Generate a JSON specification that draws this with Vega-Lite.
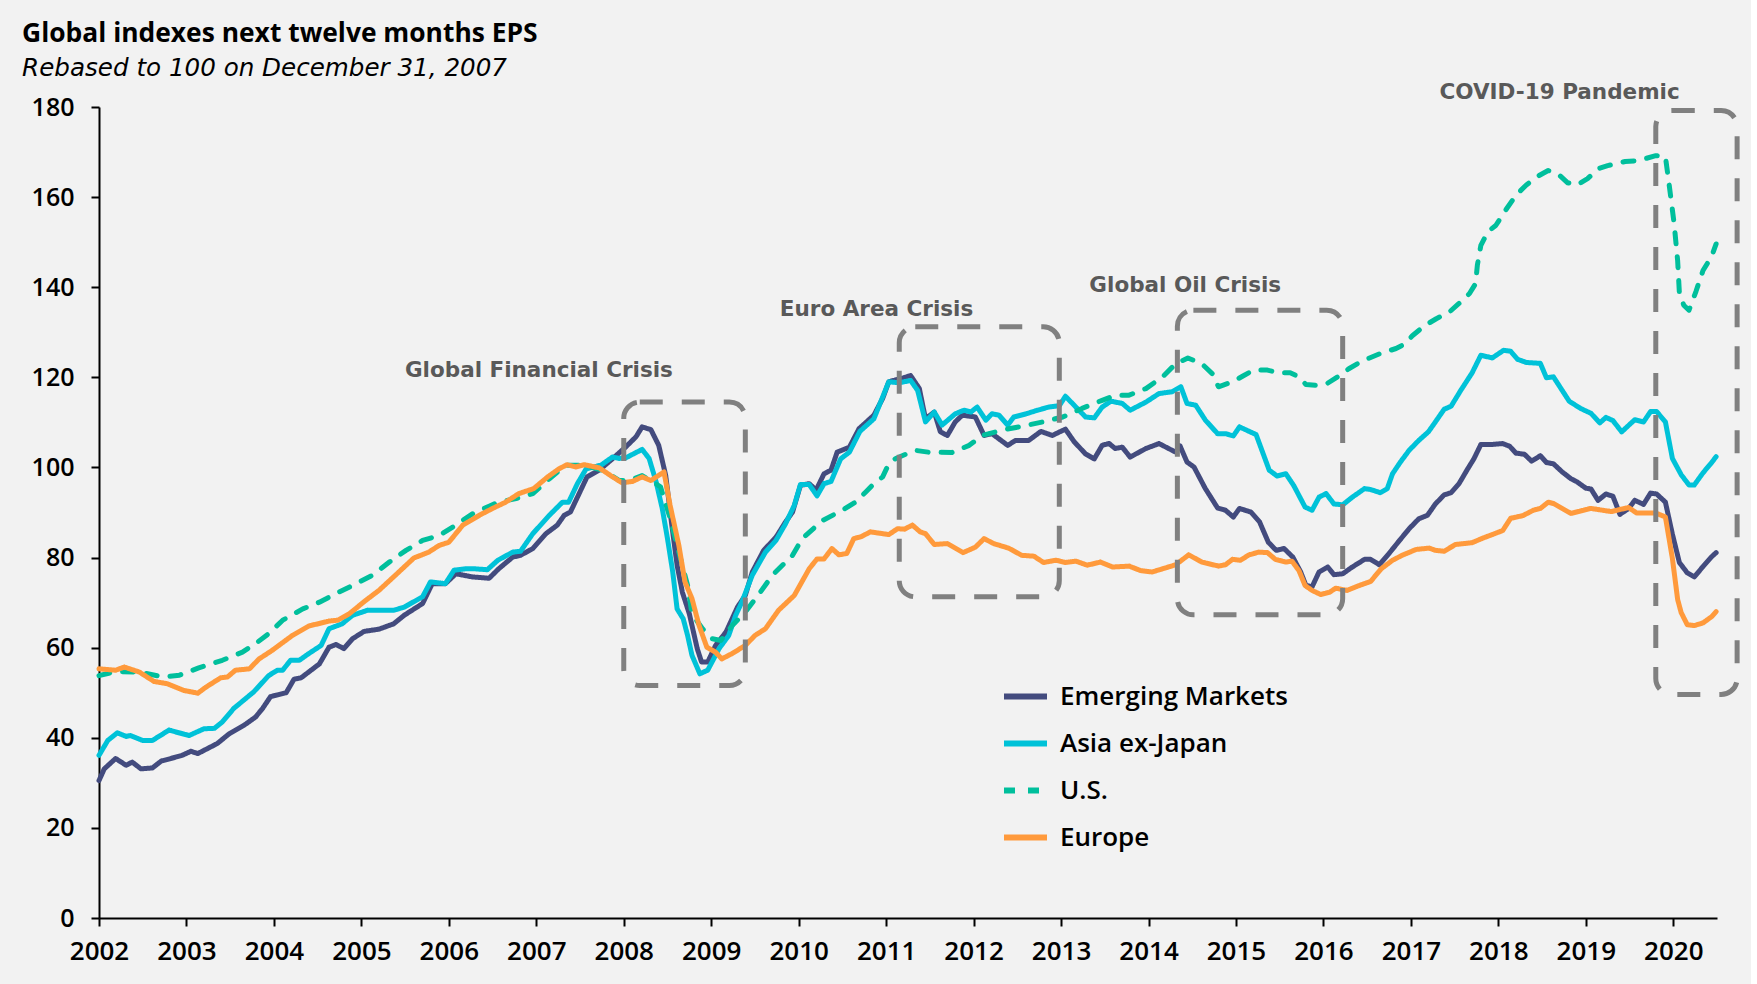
{
  "$schema": "https://vega.github.io/schema/vega-lite/v6.json",
  "width": 1618,
  "height": 811,
  "padding": {"left": 22, "top": 21, "right": 11, "bottom": 20},
  "background": "#f2f2f2",
  "config": {"view": {"stroke": null}, "font": "Open Sans"},
  "title": {
    "text": "Global indexes next twelve months EPS",
    "subtitle": "Rebased to 100 on December 31, 2007",
    "anchor": "start",
    "frame": "bounds",
    "dx": -9,
    "offset": 2,
    "font": "Open Sans",
    "fontSize": 26.4,
    "fontWeight": "bold",
    "color": "#000000",
    "subtitleFont": "DejaVu Sans",
    "subtitleFontSize": 24.6,
    "subtitleFontStyle": "italic",
    "subtitleColor": "#000000",
    "subtitlePadding": 9
  },
  "datasets": {
    "series": [
      {"s":"Emerging Markets","t":2002.00,"v":30.5},
      {"s":"Emerging Markets","t":2002.06,"v":33.1},
      {"s":"Emerging Markets","t":2002.19,"v":35.4},
      {"s":"Emerging Markets","t":2002.31,"v":33.9},
      {"s":"Emerging Markets","t":2002.38,"v":34.6},
      {"s":"Emerging Markets","t":2002.48,"v":33.1},
      {"s":"Emerging Markets","t":2002.61,"v":33.3},
      {"s":"Emerging Markets","t":2002.71,"v":34.8},
      {"s":"Emerging Markets","t":2002.95,"v":36.1},
      {"s":"Emerging Markets","t":2003.05,"v":37.0},
      {"s":"Emerging Markets","t":2003.13,"v":36.5},
      {"s":"Emerging Markets","t":2003.35,"v":38.7},
      {"s":"Emerging Markets","t":2003.49,"v":40.9},
      {"s":"Emerging Markets","t":2003.66,"v":42.8},
      {"s":"Emerging Markets","t":2003.79,"v":44.6},
      {"s":"Emerging Markets","t":2003.87,"v":46.5},
      {"s":"Emerging Markets","t":2003.96,"v":49.1},
      {"s":"Emerging Markets","t":2004.14,"v":50.0},
      {"s":"Emerging Markets","t":2004.23,"v":53.0},
      {"s":"Emerging Markets","t":2004.31,"v":53.3},
      {"s":"Emerging Markets","t":2004.52,"v":56.4},
      {"s":"Emerging Markets","t":2004.63,"v":60.1},
      {"s":"Emerging Markets","t":2004.71,"v":60.7},
      {"s":"Emerging Markets","t":2004.80,"v":59.8},
      {"s":"Emerging Markets","t":2004.90,"v":62.0},
      {"s":"Emerging Markets","t":2005.03,"v":63.6},
      {"s":"Emerging Markets","t":2005.20,"v":64.1},
      {"s":"Emerging Markets","t":2005.37,"v":65.3},
      {"s":"Emerging Markets","t":2005.49,"v":67.2},
      {"s":"Emerging Markets","t":2005.70,"v":69.8},
      {"s":"Emerging Markets","t":2005.81,"v":74.2},
      {"s":"Emerging Markets","t":2005.96,"v":74.2},
      {"s":"Emerging Markets","t":2006.08,"v":76.4},
      {"s":"Emerging Markets","t":2006.27,"v":75.7},
      {"s":"Emerging Markets","t":2006.46,"v":75.4},
      {"s":"Emerging Markets","t":2006.57,"v":77.5},
      {"s":"Emerging Markets","t":2006.73,"v":80.1},
      {"s":"Emerging Markets","t":2006.82,"v":80.5},
      {"s":"Emerging Markets","t":2006.96,"v":82.0},
      {"s":"Emerging Markets","t":2007.11,"v":85.3},
      {"s":"Emerging Markets","t":2007.24,"v":87.2},
      {"s":"Emerging Markets","t":2007.32,"v":89.4},
      {"s":"Emerging Markets","t":2007.39,"v":90.1},
      {"s":"Emerging Markets","t":2007.49,"v":94.2},
      {"s":"Emerging Markets","t":2007.58,"v":97.9},
      {"s":"Emerging Markets","t":2007.72,"v":99.4},
      {"s":"Emerging Markets","t":2007.87,"v":101.9},
      {"s":"Emerging Markets","t":2008.02,"v":104.5},
      {"s":"Emerging Markets","t":2008.14,"v":106.8},
      {"s":"Emerging Markets","t":2008.21,"v":109.0},
      {"s":"Emerging Markets","t":2008.31,"v":108.4},
      {"s":"Emerging Markets","t":2008.40,"v":104.9},
      {"s":"Emerging Markets","t":2008.48,"v":98.2},
      {"s":"Emerging Markets","t":2008.55,"v":87.1},
      {"s":"Emerging Markets","t":2008.61,"v":78.3},
      {"s":"Emerging Markets","t":2008.67,"v":72.3},
      {"s":"Emerging Markets","t":2008.75,"v":67.5},
      {"s":"Emerging Markets","t":2008.84,"v":59.8},
      {"s":"Emerging Markets","t":2008.89,"v":56.8},
      {"s":"Emerging Markets","t":2008.96,"v":56.8},
      {"s":"Emerging Markets","t":2009.05,"v":60.5},
      {"s":"Emerging Markets","t":2009.17,"v":63.5},
      {"s":"Emerging Markets","t":2009.30,"v":69.0},
      {"s":"Emerging Markets","t":2009.39,"v":71.6},
      {"s":"Emerging Markets","t":2009.47,"v":76.8},
      {"s":"Emerging Markets","t":2009.60,"v":81.6},
      {"s":"Emerging Markets","t":2009.74,"v":84.5},
      {"s":"Emerging Markets","t":2009.85,"v":87.9},
      {"s":"Emerging Markets","t":2009.93,"v":90.1},
      {"s":"Emerging Markets","t":2010.02,"v":96.0},
      {"s":"Emerging Markets","t":2010.12,"v":96.4},
      {"s":"Emerging Markets","t":2010.20,"v":95.0},
      {"s":"Emerging Markets","t":2010.29,"v":98.6},
      {"s":"Emerging Markets","t":2010.37,"v":99.4},
      {"s":"Emerging Markets","t":2010.44,"v":103.4},
      {"s":"Emerging Markets","t":2010.58,"v":104.5},
      {"s":"Emerging Markets","t":2010.69,"v":108.6},
      {"s":"Emerging Markets","t":2010.86,"v":111.6},
      {"s":"Emerging Markets","t":2010.96,"v":115.3},
      {"s":"Emerging Markets","t":2011.03,"v":119.0},
      {"s":"Emerging Markets","t":2011.17,"v":119.7},
      {"s":"Emerging Markets","t":2011.28,"v":120.4},
      {"s":"Emerging Markets","t":2011.38,"v":117.5},
      {"s":"Emerging Markets","t":2011.45,"v":110.8},
      {"s":"Emerging Markets","t":2011.55,"v":112.3},
      {"s":"Emerging Markets","t":2011.62,"v":107.9},
      {"s":"Emerging Markets","t":2011.70,"v":107.1},
      {"s":"Emerging Markets","t":2011.79,"v":110.1},
      {"s":"Emerging Markets","t":2011.87,"v":111.6},
      {"s":"Emerging Markets","t":2012.02,"v":111.2},
      {"s":"Emerging Markets","t":2012.12,"v":107.1},
      {"s":"Emerging Markets","t":2012.21,"v":107.5},
      {"s":"Emerging Markets","t":2012.39,"v":104.9},
      {"s":"Emerging Markets","t":2012.48,"v":106.0},
      {"s":"Emerging Markets","t":2012.63,"v":106.0},
      {"s":"Emerging Markets","t":2012.77,"v":108.0},
      {"s":"Emerging Markets","t":2012.90,"v":107.1},
      {"s":"Emerging Markets","t":2013.05,"v":108.5},
      {"s":"Emerging Markets","t":2013.15,"v":105.7},
      {"s":"Emerging Markets","t":2013.28,"v":103.0},
      {"s":"Emerging Markets","t":2013.38,"v":101.9},
      {"s":"Emerging Markets","t":2013.47,"v":104.9},
      {"s":"Emerging Markets","t":2013.55,"v":105.3},
      {"s":"Emerging Markets","t":2013.62,"v":104.2},
      {"s":"Emerging Markets","t":2013.70,"v":104.5},
      {"s":"Emerging Markets","t":2013.79,"v":102.3},
      {"s":"Emerging Markets","t":2013.97,"v":104.2},
      {"s":"Emerging Markets","t":2014.12,"v":105.3},
      {"s":"Emerging Markets","t":2014.31,"v":103.4},
      {"s":"Emerging Markets","t":2014.36,"v":104.8},
      {"s":"Emerging Markets","t":2014.44,"v":101.2},
      {"s":"Emerging Markets","t":2014.52,"v":100.1},
      {"s":"Emerging Markets","t":2014.65,"v":95.3},
      {"s":"Emerging Markets","t":2014.79,"v":91.0},
      {"s":"Emerging Markets","t":2014.88,"v":90.5},
      {"s":"Emerging Markets","t":2014.97,"v":89.0},
      {"s":"Emerging Markets","t":2015.04,"v":90.9},
      {"s":"Emerging Markets","t":2015.17,"v":90.1},
      {"s":"Emerging Markets","t":2015.27,"v":87.9},
      {"s":"Emerging Markets","t":2015.37,"v":83.4},
      {"s":"Emerging Markets","t":2015.46,"v":81.6},
      {"s":"Emerging Markets","t":2015.55,"v":82.0},
      {"s":"Emerging Markets","t":2015.65,"v":80.1},
      {"s":"Emerging Markets","t":2015.74,"v":76.8},
      {"s":"Emerging Markets","t":2015.80,"v":73.8},
      {"s":"Emerging Markets","t":2015.87,"v":73.5},
      {"s":"Emerging Markets","t":2015.95,"v":76.8},
      {"s":"Emerging Markets","t":2016.05,"v":77.9},
      {"s":"Emerging Markets","t":2016.12,"v":76.2},
      {"s":"Emerging Markets","t":2016.22,"v":76.4},
      {"s":"Emerging Markets","t":2016.33,"v":77.9},
      {"s":"Emerging Markets","t":2016.47,"v":79.6},
      {"s":"Emerging Markets","t":2016.54,"v":79.6},
      {"s":"Emerging Markets","t":2016.64,"v":78.4},
      {"s":"Emerging Markets","t":2016.75,"v":80.9},
      {"s":"Emerging Markets","t":2016.87,"v":83.8},
      {"s":"Emerging Markets","t":2016.98,"v":86.4},
      {"s":"Emerging Markets","t":2017.09,"v":88.6},
      {"s":"Emerging Markets","t":2017.19,"v":89.4},
      {"s":"Emerging Markets","t":2017.28,"v":91.9},
      {"s":"Emerging Markets","t":2017.38,"v":93.9},
      {"s":"Emerging Markets","t":2017.46,"v":94.4},
      {"s":"Emerging Markets","t":2017.55,"v":96.4},
      {"s":"Emerging Markets","t":2017.65,"v":99.7},
      {"s":"Emerging Markets","t":2017.72,"v":101.9},
      {"s":"Emerging Markets","t":2017.80,"v":105.1},
      {"s":"Emerging Markets","t":2017.93,"v":105.1},
      {"s":"Emerging Markets","t":2018.05,"v":105.3},
      {"s":"Emerging Markets","t":2018.13,"v":104.7},
      {"s":"Emerging Markets","t":2018.20,"v":103.2},
      {"s":"Emerging Markets","t":2018.30,"v":102.9},
      {"s":"Emerging Markets","t":2018.38,"v":101.4},
      {"s":"Emerging Markets","t":2018.48,"v":102.6},
      {"s":"Emerging Markets","t":2018.55,"v":101.1},
      {"s":"Emerging Markets","t":2018.63,"v":100.8},
      {"s":"Emerging Markets","t":2018.73,"v":99.0},
      {"s":"Emerging Markets","t":2018.83,"v":97.5},
      {"s":"Emerging Markets","t":2018.90,"v":96.8},
      {"s":"Emerging Markets","t":2019.00,"v":95.4},
      {"s":"Emerging Markets","t":2019.06,"v":95.2},
      {"s":"Emerging Markets","t":2019.14,"v":92.7},
      {"s":"Emerging Markets","t":2019.23,"v":94.1},
      {"s":"Emerging Markets","t":2019.31,"v":93.6},
      {"s":"Emerging Markets","t":2019.39,"v":89.6},
      {"s":"Emerging Markets","t":2019.49,"v":90.9},
      {"s":"Emerging Markets","t":2019.56,"v":92.7},
      {"s":"Emerging Markets","t":2019.66,"v":91.8},
      {"s":"Emerging Markets","t":2019.74,"v":94.3},
      {"s":"Emerging Markets","t":2019.81,"v":94.1},
      {"s":"Emerging Markets","t":2019.91,"v":92.3},
      {"s":"Emerging Markets","t":2019.99,"v":85.2},
      {"s":"Emerging Markets","t":2020.07,"v":78.9},
      {"s":"Emerging Markets","t":2020.16,"v":76.6},
      {"s":"Emerging Markets","t":2020.24,"v":75.7},
      {"s":"Emerging Markets","t":2020.34,"v":78.0},
      {"s":"Emerging Markets","t":2020.44,"v":80.2},
      {"s":"Emerging Markets","t":2020.49,"v":81.1},

      {"s":"Asia ex-Japan","t":2002.00,"v":36.1},
      {"s":"Asia ex-Japan","t":2002.10,"v":39.4},
      {"s":"Asia ex-Japan","t":2002.21,"v":41.1},
      {"s":"Asia ex-Japan","t":2002.31,"v":40.3},
      {"s":"Asia ex-Japan","t":2002.36,"v":40.5},
      {"s":"Asia ex-Japan","t":2002.50,"v":39.4},
      {"s":"Asia ex-Japan","t":2002.61,"v":39.4},
      {"s":"Asia ex-Japan","t":2002.80,"v":41.7},
      {"s":"Asia ex-Japan","t":2003.03,"v":40.5},
      {"s":"Asia ex-Japan","t":2003.20,"v":42.0},
      {"s":"Asia ex-Japan","t":2003.32,"v":42.1},
      {"s":"Asia ex-Japan","t":2003.41,"v":43.5},
      {"s":"Asia ex-Japan","t":2003.54,"v":46.5},
      {"s":"Asia ex-Japan","t":2003.77,"v":50.2},
      {"s":"Asia ex-Japan","t":2003.94,"v":53.8},
      {"s":"Asia ex-Japan","t":2004.04,"v":55.0},
      {"s":"Asia ex-Japan","t":2004.10,"v":55.0},
      {"s":"Asia ex-Japan","t":2004.19,"v":57.2},
      {"s":"Asia ex-Japan","t":2004.29,"v":57.2},
      {"s":"Asia ex-Japan","t":2004.40,"v":58.7},
      {"s":"Asia ex-Japan","t":2004.54,"v":60.5},
      {"s":"Asia ex-Japan","t":2004.63,"v":64.2},
      {"s":"Asia ex-Japan","t":2004.78,"v":65.3},
      {"s":"Asia ex-Japan","t":2004.90,"v":67.2},
      {"s":"Asia ex-Japan","t":2005.07,"v":68.3},
      {"s":"Asia ex-Japan","t":2005.20,"v":68.3},
      {"s":"Asia ex-Japan","t":2005.37,"v":68.3},
      {"s":"Asia ex-Japan","t":2005.49,"v":69.0},
      {"s":"Asia ex-Japan","t":2005.70,"v":71.3},
      {"s":"Asia ex-Japan","t":2005.79,"v":74.6},
      {"s":"Asia ex-Japan","t":2005.96,"v":74.2},
      {"s":"Asia ex-Japan","t":2006.06,"v":77.2},
      {"s":"Asia ex-Japan","t":2006.19,"v":77.5},
      {"s":"Asia ex-Japan","t":2006.30,"v":77.5},
      {"s":"Asia ex-Japan","t":2006.44,"v":77.3},
      {"s":"Asia ex-Japan","t":2006.56,"v":79.4},
      {"s":"Asia ex-Japan","t":2006.73,"v":81.2},
      {"s":"Asia ex-Japan","t":2006.82,"v":81.4},
      {"s":"Asia ex-Japan","t":2006.96,"v":85.3},
      {"s":"Asia ex-Japan","t":2007.15,"v":89.4},
      {"s":"Asia ex-Japan","t":2007.30,"v":92.3},
      {"s":"Asia ex-Japan","t":2007.37,"v":92.3},
      {"s":"Asia ex-Japan","t":2007.47,"v":96.4},
      {"s":"Asia ex-Japan","t":2007.57,"v":99.7},
      {"s":"Asia ex-Japan","t":2007.74,"v":100.5},
      {"s":"Asia ex-Japan","t":2007.87,"v":102.3},
      {"s":"Asia ex-Japan","t":2007.95,"v":102.0},
      {"s":"Asia ex-Japan","t":2008.02,"v":102.1},
      {"s":"Asia ex-Japan","t":2008.12,"v":103.1},
      {"s":"Asia ex-Japan","t":2008.21,"v":104.0},
      {"s":"Asia ex-Japan","t":2008.29,"v":102.0},
      {"s":"Asia ex-Japan","t":2008.37,"v":96.8},
      {"s":"Asia ex-Japan","t":2008.44,"v":90.9},
      {"s":"Asia ex-Japan","t":2008.50,"v":84.2},
      {"s":"Asia ex-Japan","t":2008.56,"v":76.8},
      {"s":"Asia ex-Japan","t":2008.61,"v":68.6},
      {"s":"Asia ex-Japan","t":2008.68,"v":66.4},
      {"s":"Asia ex-Japan","t":2008.73,"v":62.7},
      {"s":"Asia ex-Japan","t":2008.78,"v":58.3},
      {"s":"Asia ex-Japan","t":2008.87,"v":54.2},
      {"s":"Asia ex-Japan","t":2008.96,"v":55.0},
      {"s":"Asia ex-Japan","t":2009.09,"v":59.8},
      {"s":"Asia ex-Japan","t":2009.20,"v":62.7},
      {"s":"Asia ex-Japan","t":2009.28,"v":67.2},
      {"s":"Asia ex-Japan","t":2009.35,"v":70.1},
      {"s":"Asia ex-Japan","t":2009.47,"v":76.1},
      {"s":"Asia ex-Japan","t":2009.62,"v":81.2},
      {"s":"Asia ex-Japan","t":2009.74,"v":83.8},
      {"s":"Asia ex-Japan","t":2009.85,"v":87.5},
      {"s":"Asia ex-Japan","t":2009.95,"v":91.6},
      {"s":"Asia ex-Japan","t":2010.02,"v":96.2},
      {"s":"Asia ex-Japan","t":2010.12,"v":96.2},
      {"s":"Asia ex-Japan","t":2010.21,"v":93.7},
      {"s":"Asia ex-Japan","t":2010.29,"v":96.4},
      {"s":"Asia ex-Japan","t":2010.37,"v":96.9},
      {"s":"Asia ex-Japan","t":2010.48,"v":101.9},
      {"s":"Asia ex-Japan","t":2010.58,"v":103.4},
      {"s":"Asia ex-Japan","t":2010.70,"v":108.0},
      {"s":"Asia ex-Japan","t":2010.86,"v":110.8},
      {"s":"Asia ex-Japan","t":2011.03,"v":119.0},
      {"s":"Asia ex-Japan","t":2011.15,"v":118.8},
      {"s":"Asia ex-Japan","t":2011.28,"v":119.3},
      {"s":"Asia ex-Japan","t":2011.36,"v":117.1},
      {"s":"Asia ex-Japan","t":2011.45,"v":110.1},
      {"s":"Asia ex-Japan","t":2011.55,"v":112.3},
      {"s":"Asia ex-Japan","t":2011.64,"v":109.4},
      {"s":"Asia ex-Japan","t":2011.79,"v":111.9},
      {"s":"Asia ex-Japan","t":2011.89,"v":112.7},
      {"s":"Asia ex-Japan","t":2011.97,"v":112.3},
      {"s":"Asia ex-Japan","t":2012.04,"v":113.4},
      {"s":"Asia ex-Japan","t":2012.14,"v":110.5},
      {"s":"Asia ex-Japan","t":2012.21,"v":111.9},
      {"s":"Asia ex-Japan","t":2012.29,"v":111.6},
      {"s":"Asia ex-Japan","t":2012.39,"v":109.4},
      {"s":"Asia ex-Japan","t":2012.46,"v":111.2},
      {"s":"Asia ex-Japan","t":2012.60,"v":111.9},
      {"s":"Asia ex-Japan","t":2012.73,"v":112.7},
      {"s":"Asia ex-Japan","t":2012.86,"v":113.4},
      {"s":"Asia ex-Japan","t":2012.98,"v":113.7},
      {"s":"Asia ex-Japan","t":2013.05,"v":115.8},
      {"s":"Asia ex-Japan","t":2013.15,"v":113.8},
      {"s":"Asia ex-Japan","t":2013.28,"v":111.2},
      {"s":"Asia ex-Japan","t":2013.38,"v":111.0},
      {"s":"Asia ex-Japan","t":2013.47,"v":113.4},
      {"s":"Asia ex-Japan","t":2013.57,"v":114.7},
      {"s":"Asia ex-Japan","t":2013.70,"v":114.2},
      {"s":"Asia ex-Japan","t":2013.79,"v":112.7},
      {"s":"Asia ex-Japan","t":2013.97,"v":114.5},
      {"s":"Asia ex-Japan","t":2014.12,"v":116.4},
      {"s":"Asia ex-Japan","t":2014.27,"v":116.8},
      {"s":"Asia ex-Japan","t":2014.37,"v":117.9},
      {"s":"Asia ex-Japan","t":2014.44,"v":114.2},
      {"s":"Asia ex-Japan","t":2014.54,"v":113.8},
      {"s":"Asia ex-Japan","t":2014.65,"v":110.5},
      {"s":"Asia ex-Japan","t":2014.79,"v":107.5},
      {"s":"Asia ex-Japan","t":2014.88,"v":107.5},
      {"s":"Asia ex-Japan","t":2014.97,"v":107.0},
      {"s":"Asia ex-Japan","t":2015.04,"v":109.0},
      {"s":"Asia ex-Japan","t":2015.23,"v":107.3},
      {"s":"Asia ex-Japan","t":2015.38,"v":99.4},
      {"s":"Asia ex-Japan","t":2015.47,"v":98.1},
      {"s":"Asia ex-Japan","t":2015.57,"v":98.6},
      {"s":"Asia ex-Japan","t":2015.66,"v":96.0},
      {"s":"Asia ex-Japan","t":2015.79,"v":91.2},
      {"s":"Asia ex-Japan","t":2015.87,"v":90.5},
      {"s":"Asia ex-Japan","t":2015.95,"v":93.4},
      {"s":"Asia ex-Japan","t":2016.03,"v":94.2},
      {"s":"Asia ex-Japan","t":2016.12,"v":91.9},
      {"s":"Asia ex-Japan","t":2016.22,"v":91.7},
      {"s":"Asia ex-Japan","t":2016.33,"v":93.4},
      {"s":"Asia ex-Japan","t":2016.47,"v":95.3},
      {"s":"Asia ex-Japan","t":2016.54,"v":95.1},
      {"s":"Asia ex-Japan","t":2016.65,"v":94.4},
      {"s":"Asia ex-Japan","t":2016.73,"v":95.3},
      {"s":"Asia ex-Japan","t":2016.79,"v":98.6},
      {"s":"Asia ex-Japan","t":2016.88,"v":101.2},
      {"s":"Asia ex-Japan","t":2016.98,"v":103.8},
      {"s":"Asia ex-Japan","t":2017.09,"v":106.0},
      {"s":"Asia ex-Japan","t":2017.20,"v":107.9},
      {"s":"Asia ex-Japan","t":2017.28,"v":110.1},
      {"s":"Asia ex-Japan","t":2017.38,"v":112.9},
      {"s":"Asia ex-Japan","t":2017.46,"v":113.6},
      {"s":"Asia ex-Japan","t":2017.57,"v":117.1},
      {"s":"Asia ex-Japan","t":2017.70,"v":121.0},
      {"s":"Asia ex-Japan","t":2017.80,"v":124.9},
      {"s":"Asia ex-Japan","t":2017.93,"v":124.3},
      {"s":"Asia ex-Japan","t":2018.06,"v":126.0},
      {"s":"Asia ex-Japan","t":2018.14,"v":125.8},
      {"s":"Asia ex-Japan","t":2018.22,"v":124.0},
      {"s":"Asia ex-Japan","t":2018.32,"v":123.3},
      {"s":"Asia ex-Japan","t":2018.48,"v":123.1},
      {"s":"Asia ex-Japan","t":2018.55,"v":119.9},
      {"s":"Asia ex-Japan","t":2018.63,"v":120.1},
      {"s":"Asia ex-Japan","t":2018.81,"v":114.7},
      {"s":"Asia ex-Japan","t":2018.94,"v":113.1},
      {"s":"Asia ex-Japan","t":2019.06,"v":112.0},
      {"s":"Asia ex-Japan","t":2019.16,"v":109.9},
      {"s":"Asia ex-Japan","t":2019.23,"v":111.1},
      {"s":"Asia ex-Japan","t":2019.31,"v":110.4},
      {"s":"Asia ex-Japan","t":2019.41,"v":107.9},
      {"s":"Asia ex-Japan","t":2019.56,"v":110.6},
      {"s":"Asia ex-Japan","t":2019.66,"v":110.1},
      {"s":"Asia ex-Japan","t":2019.74,"v":112.4},
      {"s":"Asia ex-Japan","t":2019.81,"v":112.4},
      {"s":"Asia ex-Japan","t":2019.91,"v":110.1},
      {"s":"Asia ex-Japan","t":2019.99,"v":102.0},
      {"s":"Asia ex-Japan","t":2020.09,"v":98.4},
      {"s":"Asia ex-Japan","t":2020.18,"v":96.1},
      {"s":"Asia ex-Japan","t":2020.24,"v":96.1},
      {"s":"Asia ex-Japan","t":2020.34,"v":98.8},
      {"s":"Asia ex-Japan","t":2020.44,"v":101.1},
      {"s":"Asia ex-Japan","t":2020.49,"v":102.4},

      {"s":"U.S.","t":2002.00,"v":53.8},
      {"s":"U.S.","t":2002.19,"v":54.7},
      {"s":"U.S.","t":2002.46,"v":54.6},
      {"s":"U.S.","t":2002.73,"v":53.5},
      {"s":"U.S.","t":2002.92,"v":53.9},
      {"s":"U.S.","t":2003.14,"v":55.5},
      {"s":"U.S.","t":2003.41,"v":57.2},
      {"s":"U.S.","t":2003.64,"v":59.0},
      {"s":"U.S.","t":2003.79,"v":60.9},
      {"s":"U.S.","t":2003.94,"v":63.1},
      {"s":"U.S.","t":2004.10,"v":66.1},
      {"s":"U.S.","t":2004.33,"v":68.6},
      {"s":"U.S.","t":2004.52,"v":70.1},
      {"s":"U.S.","t":2004.75,"v":72.4},
      {"s":"U.S.","t":2004.94,"v":74.2},
      {"s":"U.S.","t":2005.13,"v":76.1},
      {"s":"U.S.","t":2005.32,"v":79.0},
      {"s":"U.S.","t":2005.51,"v":81.6},
      {"s":"U.S.","t":2005.70,"v":83.8},
      {"s":"U.S.","t":2005.89,"v":84.9},
      {"s":"U.S.","t":2006.08,"v":87.2},
      {"s":"U.S.","t":2006.27,"v":89.7},
      {"s":"U.S.","t":2006.46,"v":91.4},
      {"s":"U.S.","t":2006.57,"v":92.3},
      {"s":"U.S.","t":2006.77,"v":93.1},
      {"s":"U.S.","t":2006.96,"v":94.2},
      {"s":"U.S.","t":2007.15,"v":97.5},
      {"s":"U.S.","t":2007.34,"v":100.5},
      {"s":"U.S.","t":2007.53,"v":100.5},
      {"s":"U.S.","t":2007.76,"v":99.4},
      {"s":"U.S.","t":2007.95,"v":97.1},
      {"s":"U.S.","t":2008.06,"v":97.1},
      {"s":"U.S.","t":2008.21,"v":98.2},
      {"s":"U.S.","t":2008.33,"v":96.8},
      {"s":"U.S.","t":2008.42,"v":95.7},
      {"s":"U.S.","t":2008.52,"v":89.4},
      {"s":"U.S.","t":2008.63,"v":81.2},
      {"s":"U.S.","t":2008.73,"v":73.8},
      {"s":"U.S.","t":2008.78,"v":67.5},
      {"s":"U.S.","t":2008.90,"v":64.2},
      {"s":"U.S.","t":2009.01,"v":62.0},
      {"s":"U.S.","t":2009.11,"v":61.6},
      {"s":"U.S.","t":2009.24,"v":64.9},
      {"s":"U.S.","t":2009.39,"v":67.9},
      {"s":"U.S.","t":2009.55,"v":72.0},
      {"s":"U.S.","t":2009.70,"v":76.1},
      {"s":"U.S.","t":2009.93,"v":80.5},
      {"s":"U.S.","t":2010.04,"v":84.2},
      {"s":"U.S.","t":2010.27,"v":88.2},
      {"s":"U.S.","t":2010.50,"v":90.5},
      {"s":"U.S.","t":2010.65,"v":92.3},
      {"s":"U.S.","t":2010.77,"v":94.6},
      {"s":"U.S.","t":2010.84,"v":96.0},
      {"s":"U.S.","t":2010.96,"v":97.9},
      {"s":"U.S.","t":2011.03,"v":100.8},
      {"s":"U.S.","t":2011.11,"v":102.0},
      {"s":"U.S.","t":2011.33,"v":103.8},
      {"s":"U.S.","t":2011.48,"v":103.4},
      {"s":"U.S.","t":2011.75,"v":103.3},
      {"s":"U.S.","t":2011.95,"v":104.9},
      {"s":"U.S.","t":2012.10,"v":107.1},
      {"s":"U.S.","t":2012.33,"v":108.3},
      {"s":"U.S.","t":2012.52,"v":109.0},
      {"s":"U.S.","t":2012.79,"v":110.1},
      {"s":"U.S.","t":2013.02,"v":111.2},
      {"s":"U.S.","t":2013.24,"v":113.1},
      {"s":"U.S.","t":2013.47,"v":114.9},
      {"s":"U.S.","t":2013.62,"v":116.0},
      {"s":"U.S.","t":2013.77,"v":116.0},
      {"s":"U.S.","t":2013.97,"v":117.5},
      {"s":"U.S.","t":2014.16,"v":120.1},
      {"s":"U.S.","t":2014.31,"v":123.0},
      {"s":"U.S.","t":2014.45,"v":124.3},
      {"s":"U.S.","t":2014.61,"v":123.0},
      {"s":"U.S.","t":2014.73,"v":120.8},
      {"s":"U.S.","t":2014.80,"v":117.9},
      {"s":"U.S.","t":2014.96,"v":119.0},
      {"s":"U.S.","t":2015.09,"v":120.4},
      {"s":"U.S.","t":2015.20,"v":121.6},
      {"s":"U.S.","t":2015.36,"v":121.6},
      {"s":"U.S.","t":2015.49,"v":121.0},
      {"s":"U.S.","t":2015.62,"v":121.0},
      {"s":"U.S.","t":2015.72,"v":120.1},
      {"s":"U.S.","t":2015.80,"v":118.4},
      {"s":"U.S.","t":2015.93,"v":118.2},
      {"s":"U.S.","t":2016.04,"v":118.6},
      {"s":"U.S.","t":2016.16,"v":120.1},
      {"s":"U.S.","t":2016.29,"v":121.9},
      {"s":"U.S.","t":2016.44,"v":123.6},
      {"s":"U.S.","t":2016.64,"v":125.2},
      {"s":"U.S.","t":2016.83,"v":126.4},
      {"s":"U.S.","t":2016.94,"v":127.5},
      {"s":"U.S.","t":2017.02,"v":129.3},
      {"s":"U.S.","t":2017.16,"v":131.5},
      {"s":"U.S.","t":2017.29,"v":133.0},
      {"s":"U.S.","t":2017.44,"v":134.5},
      {"s":"U.S.","t":2017.55,"v":136.4},
      {"s":"U.S.","t":2017.67,"v":138.6},
      {"s":"U.S.","t":2017.74,"v":140.8},
      {"s":"U.S.","t":2017.76,"v":144.9},
      {"s":"U.S.","t":2017.80,"v":149.3},
      {"s":"U.S.","t":2017.88,"v":152.3},
      {"s":"U.S.","t":2017.97,"v":153.7},
      {"s":"U.S.","t":2018.09,"v":157.3},
      {"s":"U.S.","t":2018.20,"v":160.4},
      {"s":"U.S.","t":2018.32,"v":162.7},
      {"s":"U.S.","t":2018.44,"v":164.5},
      {"s":"U.S.","t":2018.57,"v":165.9},
      {"s":"U.S.","t":2018.69,"v":165.0},
      {"s":"U.S.","t":2018.79,"v":163.2},
      {"s":"U.S.","t":2018.90,"v":162.7},
      {"s":"U.S.","t":2019.02,"v":164.1},
      {"s":"U.S.","t":2019.14,"v":166.3},
      {"s":"U.S.","t":2019.25,"v":167.0},
      {"s":"U.S.","t":2019.45,"v":167.9},
      {"s":"U.S.","t":2019.60,"v":168.1},
      {"s":"U.S.","t":2019.80,"v":169.2},
      {"s":"U.S.","t":2019.91,"v":169.0},
      {"s":"U.S.","t":2019.95,"v":163.2},
      {"s":"U.S.","t":2020.01,"v":154.1},
      {"s":"U.S.","t":2020.05,"v":145.9},
      {"s":"U.S.","t":2020.07,"v":138.7},
      {"s":"U.S.","t":2020.12,"v":136.0},
      {"s":"U.S.","t":2020.18,"v":134.9},
      {"s":"U.S.","t":2020.26,"v":139.1},
      {"s":"U.S.","t":2020.34,"v":143.7},
      {"s":"U.S.","t":2020.44,"v":146.9},
      {"s":"U.S.","t":2020.49,"v":149.6},

      {"s":"Europe","t":2002.00,"v":55.3},
      {"s":"Europe","t":2002.19,"v":55.0},
      {"s":"Europe","t":2002.29,"v":55.7},
      {"s":"Europe","t":2002.46,"v":54.6},
      {"s":"Europe","t":2002.63,"v":52.5},
      {"s":"Europe","t":2002.78,"v":52.0},
      {"s":"Europe","t":2002.97,"v":50.5},
      {"s":"Europe","t":2003.13,"v":49.9},
      {"s":"Europe","t":2003.22,"v":51.2},
      {"s":"Europe","t":2003.39,"v":53.3},
      {"s":"Europe","t":2003.47,"v":53.5},
      {"s":"Europe","t":2003.56,"v":55.0},
      {"s":"Europe","t":2003.72,"v":55.3},
      {"s":"Europe","t":2003.83,"v":57.5},
      {"s":"Europe","t":2003.98,"v":59.4},
      {"s":"Europe","t":2004.21,"v":62.7},
      {"s":"Europe","t":2004.40,"v":64.8},
      {"s":"Europe","t":2004.63,"v":65.9},
      {"s":"Europe","t":2004.73,"v":66.1},
      {"s":"Europe","t":2004.86,"v":67.5},
      {"s":"Europe","t":2005.05,"v":70.5},
      {"s":"Europe","t":2005.20,"v":72.7},
      {"s":"Europe","t":2005.39,"v":76.1},
      {"s":"Europe","t":2005.60,"v":79.9},
      {"s":"Europe","t":2005.77,"v":81.2},
      {"s":"Europe","t":2005.89,"v":82.7},
      {"s":"Europe","t":2006.00,"v":83.4},
      {"s":"Europe","t":2006.16,"v":87.2},
      {"s":"Europe","t":2006.36,"v":89.5},
      {"s":"Europe","t":2006.50,"v":90.9},
      {"s":"Europe","t":2006.65,"v":92.3},
      {"s":"Europe","t":2006.80,"v":94.2},
      {"s":"Europe","t":2006.97,"v":95.3},
      {"s":"Europe","t":2007.13,"v":97.9},
      {"s":"Europe","t":2007.26,"v":99.7},
      {"s":"Europe","t":2007.35,"v":100.6},
      {"s":"Europe","t":2007.45,"v":100.1},
      {"s":"Europe","t":2007.55,"v":100.6},
      {"s":"Europe","t":2007.72,"v":99.9},
      {"s":"Europe","t":2007.85,"v":98.2},
      {"s":"Europe","t":2007.98,"v":96.6},
      {"s":"Europe","t":2008.10,"v":96.9},
      {"s":"Europe","t":2008.21,"v":97.9},
      {"s":"Europe","t":2008.31,"v":97.1},
      {"s":"Europe","t":2008.46,"v":99.0},
      {"s":"Europe","t":2008.53,"v":91.6},
      {"s":"Europe","t":2008.63,"v":82.7},
      {"s":"Europe","t":2008.70,"v":74.6},
      {"s":"Europe","t":2008.78,"v":70.9},
      {"s":"Europe","t":2008.86,"v":65.0},
      {"s":"Europe","t":2008.95,"v":60.1},
      {"s":"Europe","t":2009.05,"v":59.0},
      {"s":"Europe","t":2009.12,"v":57.5},
      {"s":"Europe","t":2009.24,"v":58.7},
      {"s":"Europe","t":2009.39,"v":60.5},
      {"s":"Europe","t":2009.50,"v":62.7},
      {"s":"Europe","t":2009.62,"v":64.2},
      {"s":"Europe","t":2009.77,"v":68.3},
      {"s":"Europe","t":2009.95,"v":71.6},
      {"s":"Europe","t":2010.12,"v":77.5},
      {"s":"Europe","t":2010.21,"v":79.7},
      {"s":"Europe","t":2010.29,"v":79.7},
      {"s":"Europe","t":2010.38,"v":82.0},
      {"s":"Europe","t":2010.46,"v":80.6},
      {"s":"Europe","t":2010.55,"v":80.9},
      {"s":"Europe","t":2010.63,"v":84.2},
      {"s":"Europe","t":2010.71,"v":84.6},
      {"s":"Europe","t":2010.82,"v":85.7},
      {"s":"Europe","t":2010.96,"v":85.3},
      {"s":"Europe","t":2011.03,"v":85.1},
      {"s":"Europe","t":2011.13,"v":86.4},
      {"s":"Europe","t":2011.21,"v":86.3},
      {"s":"Europe","t":2011.30,"v":87.2},
      {"s":"Europe","t":2011.39,"v":85.7},
      {"s":"Europe","t":2011.45,"v":85.3},
      {"s":"Europe","t":2011.55,"v":82.9},
      {"s":"Europe","t":2011.70,"v":83.1},
      {"s":"Europe","t":2011.88,"v":81.1},
      {"s":"Europe","t":2012.02,"v":82.3},
      {"s":"Europe","t":2012.12,"v":84.2},
      {"s":"Europe","t":2012.23,"v":83.1},
      {"s":"Europe","t":2012.40,"v":82.1},
      {"s":"Europe","t":2012.55,"v":80.5},
      {"s":"Europe","t":2012.69,"v":80.3},
      {"s":"Europe","t":2012.80,"v":78.9},
      {"s":"Europe","t":2012.94,"v":79.4},
      {"s":"Europe","t":2013.05,"v":78.9},
      {"s":"Europe","t":2013.17,"v":79.2},
      {"s":"Europe","t":2013.30,"v":78.3},
      {"s":"Europe","t":2013.45,"v":79.0},
      {"s":"Europe","t":2013.59,"v":77.9},
      {"s":"Europe","t":2013.78,"v":78.1},
      {"s":"Europe","t":2013.91,"v":77.1},
      {"s":"Europe","t":2014.04,"v":76.8},
      {"s":"Europe","t":2014.16,"v":77.5},
      {"s":"Europe","t":2014.31,"v":78.4},
      {"s":"Europe","t":2014.46,"v":80.6},
      {"s":"Europe","t":2014.61,"v":79.0},
      {"s":"Europe","t":2014.80,"v":78.1},
      {"s":"Europe","t":2014.88,"v":78.4},
      {"s":"Europe","t":2014.96,"v":79.6},
      {"s":"Europe","t":2015.05,"v":79.4},
      {"s":"Europe","t":2015.15,"v":80.6},
      {"s":"Europe","t":2015.26,"v":81.2},
      {"s":"Europe","t":2015.36,"v":81.1},
      {"s":"Europe","t":2015.45,"v":79.6},
      {"s":"Europe","t":2015.57,"v":79.0},
      {"s":"Europe","t":2015.64,"v":79.2},
      {"s":"Europe","t":2015.72,"v":77.1},
      {"s":"Europe","t":2015.79,"v":73.8},
      {"s":"Europe","t":2015.87,"v":72.7},
      {"s":"Europe","t":2015.97,"v":71.8},
      {"s":"Europe","t":2016.07,"v":72.3},
      {"s":"Europe","t":2016.14,"v":73.2},
      {"s":"Europe","t":2016.27,"v":72.7},
      {"s":"Europe","t":2016.41,"v":73.8},
      {"s":"Europe","t":2016.54,"v":74.7},
      {"s":"Europe","t":2016.66,"v":77.5},
      {"s":"Europe","t":2016.79,"v":79.4},
      {"s":"Europe","t":2016.90,"v":80.5},
      {"s":"Europe","t":2017.06,"v":81.8},
      {"s":"Europe","t":2017.21,"v":82.1},
      {"s":"Europe","t":2017.28,"v":81.6},
      {"s":"Europe","t":2017.38,"v":81.4},
      {"s":"Europe","t":2017.51,"v":82.9},
      {"s":"Europe","t":2017.70,"v":83.3},
      {"s":"Europe","t":2017.82,"v":84.3},
      {"s":"Europe","t":2017.93,"v":85.1},
      {"s":"Europe","t":2018.05,"v":86.0},
      {"s":"Europe","t":2018.14,"v":88.7},
      {"s":"Europe","t":2018.28,"v":89.3},
      {"s":"Europe","t":2018.40,"v":90.5},
      {"s":"Europe","t":2018.48,"v":90.9},
      {"s":"Europe","t":2018.57,"v":92.3},
      {"s":"Europe","t":2018.63,"v":92.0},
      {"s":"Europe","t":2018.83,"v":89.8},
      {"s":"Europe","t":2019.06,"v":90.9},
      {"s":"Europe","t":2019.29,"v":90.2},
      {"s":"Europe","t":2019.49,"v":91.1},
      {"s":"Europe","t":2019.58,"v":89.9},
      {"s":"Europe","t":2019.80,"v":89.9},
      {"s":"Europe","t":2019.91,"v":89.0},
      {"s":"Europe","t":2019.99,"v":79.8},
      {"s":"Europe","t":2020.05,"v":70.7},
      {"s":"Europe","t":2020.09,"v":67.8},
      {"s":"Europe","t":2020.16,"v":65.1},
      {"s":"Europe","t":2020.24,"v":64.9},
      {"s":"Europe","t":2020.34,"v":65.5},
      {"s":"Europe","t":2020.44,"v":66.9},
      {"s":"Europe","t":2020.49,"v":68.0}
    ],
    "boxes": [
      {"name":"Global Financial Crisis","x1":2008.00,"x2":2009.39,"y1":51.6,"y2":114.5},
      {"name":"Euro Area Crisis","x1":2011.15,"x2":2012.98,"y1":71.3,"y2":131.2},
      {"name":"Global Oil Crisis","x1":2014.33,"x2":2016.22,"y1":67.3,"y2":134.9},
      {"name":"COVID-19 Pandemic","x1":2019.80,"x2":2020.73,"y1":49.6,"y2":179.2}
    ],
    "labels": [
      {"text":"Global Financial Crisis","t":2007.03,"v":120.1},
      {"text":"Euro Area Crisis","t":2010.89,"v":133.6},
      {"text":"Global Oil Crisis","t":2014.42,"v":139.0},
      {"text":"COVID-19 Pandemic","t":2018.70,"v":181.7}
    ]
  },
  "layer": [
    {
      "data": {"name": "series"},
      "mark": {"type": "line", "strokeWidth": 5, "strokeJoin": "round", "strokeCap": "round", "clip": false},
      "encoding": {
        "x": {
          "field": "t", "type": "quantitative",
          "scale": {"domain": [2002, 2020.5], "nice": false, "zero": false},
          "axis": {
            "title": null,
            "values": [2002,2003,2004,2005,2006,2007,2008,2009,2010,2011,2012,2013,2014,2015,2016,2017,2018,2019,2020],
            "format": "d",
            "grid": false,
            "domainColor": "#000000", "domainWidth": 2,
            "tickColor": "#000000", "tickWidth": 2, "tickSize": 8,
            "labelFont": "Open Sans", "labelFontSize": 26, "labelFontWeight": 600, "labelColor": "#000000",
            "labelPadding": 12, "labelFlush": false, "labelOverlap": false
          }
        },
        "y": {
          "field": "v", "type": "quantitative",
          "scale": {"domain": [0, 180], "nice": false},
          "axis": {
            "title": null,
            "values": [0,20,40,60,80,100,120,140,160,180],
            "grid": false,
            "domainColor": "#000000", "domainWidth": 2,
            "tickColor": "#000000", "tickWidth": 2, "tickSize": 8,
            "labelFont": "Open Sans", "labelFontSize": 25, "labelFontWeight": 600, "labelColor": "#000000",
            "labelPadding": 17, "labelFlush": false, "labelOverlap": false
          }
        },
        "color": {
          "field": "s", "type": "nominal",
          "scale": {
            "domain": ["Emerging Markets", "Asia ex-Japan", "U.S.", "Europe"],
            "range": ["#434b7e", "#00c2d8", "#00bf9c", "#ff9a3c"]
          },
          "legend": {
            "title": null, "orient": "none", "legendX": 902, "legendY": 565,
            "symbolType": "stroke", "symbolSize": 1849, "symbolStrokeWidth": 6,
            "labelFont": "Open Sans", "labelFontSize": 26, "labelFontWeight": 600, "labelColor": "#000000",
            "labelOffset": 10, "labelLimit": 600, "rowPadding": 9, "padding": 0
          }
        },
        "strokeDash": {
          "field": "s", "type": "nominal",
          "scale": {
            "domain": ["Emerging Markets", "Asia ex-Japan", "U.S.", "Europe"],
            "range": [[1, 0], [1, 0], [11, 13], [1, 0]]
          },
          "legend": {
            "title": null, "orient": "none", "legendX": 902, "legendY": 565,
            "symbolType": "stroke", "symbolSize": 1849, "symbolStrokeWidth": 6,
            "labelFont": "Open Sans", "labelFontSize": 26, "labelFontWeight": 600, "labelColor": "#000000",
            "labelOffset": 10, "labelLimit": 600, "rowPadding": 9, "padding": 0
          }
        }
      }
    },
    {
      "data": {"name": "boxes"},
      "mark": {"type": "rect", "fill": "transparent", "stroke": "#808080", "strokeWidth": 5, "strokeDash": [23, 19], "cornerRadius": 16, "clip": false},
      "encoding": {
        "x": {"field": "x1", "type": "quantitative", "scale": {"domain": [2002, 2020.5], "nice": false, "zero": false}},
        "x2": {"field": "x2"},
        "y": {"field": "y1", "type": "quantitative", "scale": {"domain": [0, 180], "nice": false}},
        "y2": {"field": "y2"}
      }
    },
    {
      "data": {"name": "labels"},
      "mark": {"type": "text", "font": "DejaVu Sans", "fontSize": 21.5, "fontWeight": "bold", "color": "#595959", "align": "center", "baseline": "alphabetic", "clip": false},
      "encoding": {
        "x": {"field": "t", "type": "quantitative", "scale": {"domain": [2002, 2020.5], "nice": false, "zero": false}},
        "y": {"field": "v", "type": "quantitative", "scale": {"domain": [0, 180], "nice": false}},
        "text": {"field": "text", "type": "nominal"}
      }
    }
  ]
}
